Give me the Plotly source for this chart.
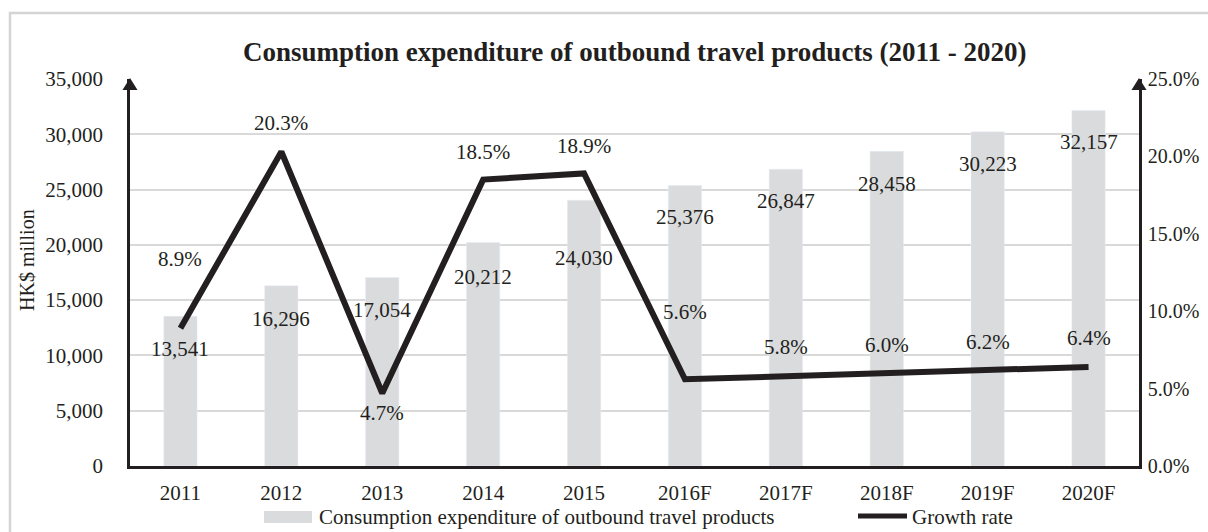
import plotly.graph_objects as go

# ---------------- data ----------------
categories = ["2011", "2012", "2013", "2014", "2015", "2016F", "2017F", "2018F", "2019F", "2020F"]
expenditure = [13541, 16296, 17054, 20212, 24030, 25376, 26847, 28458, 30223, 32157]
growth_rate = [8.9, 20.3, 4.7, 18.5, 18.9, 5.6, 5.8, 6.0, 6.2, 6.4]

bar_name = "Consumption expenditure of outbound travel products"
line_name = "Growth rate"
title_text = "Consumption expenditure of outbound travel products (2011 - 2020)"
y_title = "HK$ million"

# label offsets (pixels) used to place data labels as in the reference
bar_label_shift = [-33, -33, -33, -34, -58, -32, -32, -33, -32, -32]
line_label_shift = [69, 29, -20, 28, 27, 67, 29, 28, 28, 29]

# ---------------- layout constants ----------------
W, H = 1208, 532
L, R, T, B = 130, 69, 79, 66
PW, PH = W - L - R, H - T - B
FONT = "Liberation Serif, Times New Roman, serif"
TXT = "#231f20"
BAR = "#dadbdd"
GRID = "#d9d9d9"


def px_x(X):
    return (X - L) / PW


def px_y(Y):
    return (H - B - Y) / PH


fig = go.Figure()
fig.add_trace(go.Bar(
    x=categories, y=expenditure, name=bar_name, marker_color=BAR,
    width=0.33, yaxis="y", showlegend=False,
))
fig.add_trace(go.Scatter(
    x=categories, y=growth_rate, name=line_name, mode="lines",
    line=dict(color=TXT, width=6), yaxis="y2", showlegend=False,
))

annotations = []
for i, (v, s) in enumerate(zip(expenditure, bar_label_shift)):
    annotations.append(dict(x=i, y=v, xref="x", yref="y", text=f"{v:,}", showarrow=False,
                            yshift=s, font=dict(family=FONT, size=21, color=TXT)))
for i, (v, s) in enumerate(zip(growth_rate, line_label_shift)):
    annotations.append(dict(x=i, y=v, xref="x", yref="y2", text=f"{v:.1f}%", showarrow=False,
                            yshift=s, font=dict(family=FONT, size=21, color=TXT)))

# title
annotations.append(dict(x=0.5, y=px_y(52), xref="paper", yref="paper", text=f"<b>{title_text}</b>",
                        showarrow=False, xanchor="center", yanchor="middle",
                        font=dict(family=FONT, size=27, color=TXT)))
# y axis title
annotations.append(dict(x=px_x(27), y=px_y(260), xref="paper", yref="paper", text=y_title,
                        showarrow=False, textangle=-90, xanchor="center", yanchor="middle",
                        font=dict(family=FONT, size=20, color=TXT)))
# legend texts
annotations.append(dict(x=px_x(317), y=px_y(517), xref="paper", yref="paper", text=bar_name,
                        showarrow=False, xanchor="left", yanchor="middle",
                        font=dict(family=FONT, size=21, color=TXT)))
annotations.append(dict(x=px_x(910), y=px_y(517), xref="paper", yref="paper", text=line_name,
                        showarrow=False, xanchor="left", yanchor="middle",
                        font=dict(family=FONT, size=21, color=TXT)))

shapes = [
    # outer light border
    dict(type="rect", xref="paper", yref="paper", x0=px_x(10), x1=px_x(1230), y0=px_y(560), y1=px_y(13),
         line=dict(color="#d4d4d4", width=2.5), fillcolor="rgba(0,0,0,0)", layer="below"),
    # arrow heads on axes
    dict(type="path", xref="paper", yref="paper", xsizemode="pixel", ysizemode="pixel",
         xanchor=0, yanchor=1, path="M-7.5,-11 L7.5,-11 L0,1 Z", fillcolor=TXT, line=dict(width=0)),
    dict(type="path", xref="paper", yref="paper", xsizemode="pixel", ysizemode="pixel",
         xanchor=1, yanchor=1, path="M-7.5,-11 L7.5,-11 L0,1 Z", fillcolor=TXT, line=dict(width=0)),
    # legend swatches
    dict(type="rect", xref="paper", yref="paper", x0=px_x(264), x1=px_x(312), y0=px_y(523), y1=px_y(511),
         fillcolor=BAR, line=dict(width=0)),
    dict(type="line", xref="paper", yref="paper", x0=px_x(858), x1=px_x(907), y0=px_y(516), y1=px_y(516),
         line=dict(color=TXT, width=5)),
]

fig.update_layout(
    width=W, height=H,
    margin=dict(l=L, r=R, t=T, b=B, pad=0, autoexpand=False),
    paper_bgcolor="white", plot_bgcolor="white",
    font=dict(family=FONT, size=21, color=TXT),
    xaxis=dict(type="category", range=[-0.5, 9.5], showline=True, linecolor=TXT, linewidth=2.5,
               ticks="", showgrid=False, tickfont=dict(family=FONT, size=21, color=TXT),
               ticklabelstandoff=6, automargin=False),
    yaxis=dict(range=[0, 35000], dtick=5000, tickformat=",", showgrid=True, gridcolor=GRID, gridwidth=1.5,
               zeroline=False, showline=True, linecolor=TXT, linewidth=2.5, ticks="",
               tickfont=dict(family=FONT, size=21, color=TXT), ticklabelstandoff=20, automargin=False),
    yaxis2=dict(range=[0, 25], dtick=5, tickformat=".1f", ticksuffix="%", overlaying="y", side="right",
                showgrid=False, zeroline=False, showline=True, linecolor=TXT, linewidth=2.5, ticks="",
                tickfont=dict(family=FONT, size=20, color=TXT), ticklabelstandoff=2, automargin=False),
    annotations=annotations,
    shapes=shapes,
    showlegend=False,
)

fig.write_html("out.html")
